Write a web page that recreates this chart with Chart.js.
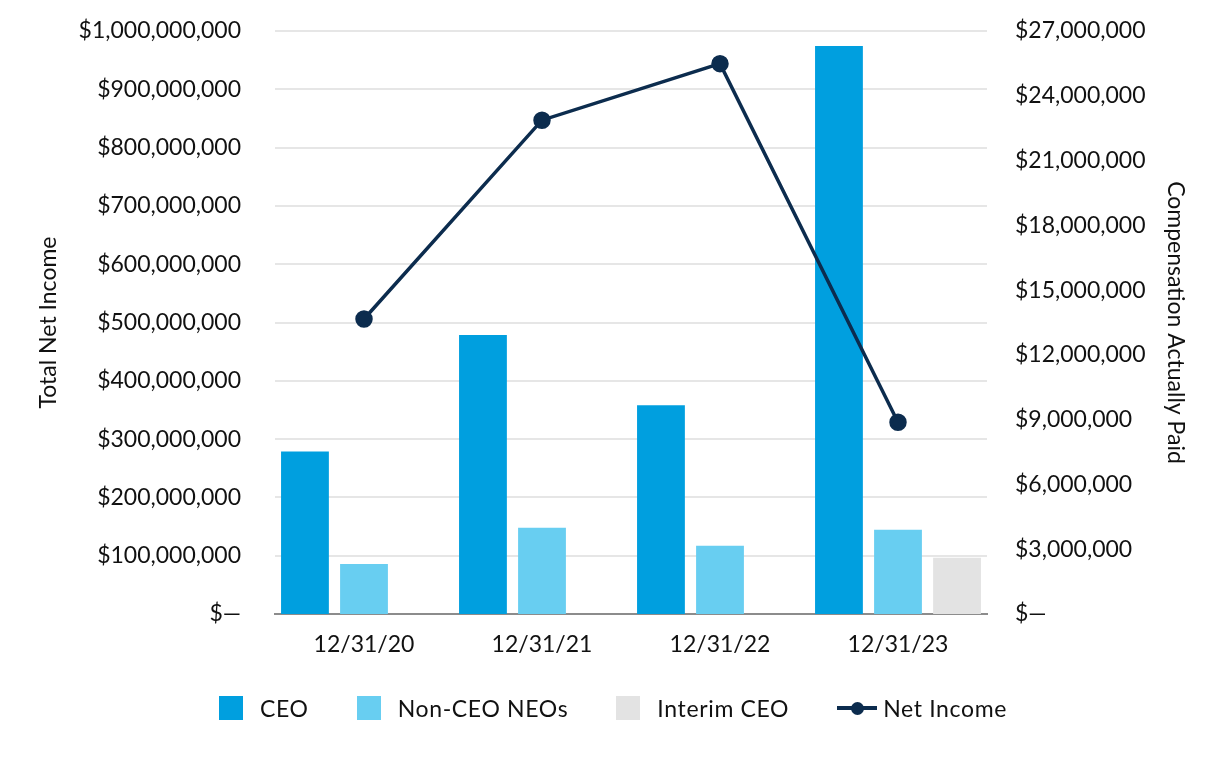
<!DOCTYPE html>
<html><head><meta charset="utf-8">
<script src="https://cdn.jsdelivr.net/npm/chart.js@4/dist/chart.umd.min.js"></script>
<style>
html,body{margin:0;padding:0;background:#fff;}
#wrap{position:relative;width:1226px;height:760px;}
#chart{position:absolute;left:0;top:0;width:1226px;height:760px;}
#legend{position:absolute;left:0;top:688px;width:1226px;height:40px;display:flex;justify-content:center;align-items:center;font-family:Lato, "Noto Sans", sans-serif;font-size:23px;letter-spacing:0.65px;color:#111;}
.item{display:flex;align-items:center;margin:0 24px;}
.box{width:24px;height:24px;margin-right:17px;}
.lineicon{position:relative;width:40px;height:4px;margin-right:6px;}
.lineicon span{position:absolute;left:13.5px;top:-4.5px;width:13px;height:13px;border-radius:50%;}
</style></head>
<body>
<div id="wrap"><canvas id="chart"></canvas><div id="legend"></div></div>
<script>
const categories = ['12/31/20', '12/31/21', '12/31/22', '12/31/23'];
const ceoPaid = [7530000, 12920000, 9670000, 26300000];
const nonCeoPaid = [2320000, 4000000, 3160000, 3900000];
const interimCeoPaid = [null, null, null, 2600000];
const netIncome = [506000000, 847000000, 944000000, 329000000];
const leftTickLabels = ['$\u2014', '$100,000,000', '$200,000,000', '$300,000,000', '$400,000,000', '$500,000,000', '$600,000,000', '$700,000,000', '$800,000,000', '$900,000,000', '$1,000,000,000'];
const rightTickLabels = ['$\u2014', '$3,000,000', '$6,000,000', '$9,000,000', '$12,000,000', '$15,000,000', '$18,000,000', '$21,000,000', '$24,000,000', '$27,000,000'];

const FONT = 'Lato, "Noto Sans", sans-serif';
const tickFont = {family: FONT, size: 23};
const NAVY = '#0c2c4e';

const chart = new Chart(document.getElementById('chart'), {
  data: {
    labels: categories,
    datasets: [
      {type: 'bar', label: 'CEO', data: ceoPaid, backgroundColor: '#009fdf', yAxisID: 'yR', order: 2},
      {type: 'bar', label: 'Non-CEO NEOs', data: nonCeoPaid, backgroundColor: '#68cef1', yAxisID: 'yR', order: 2},
      {type: 'bar', label: 'Interim CEO', data: interimCeoPaid, backgroundColor: '#e3e3e3', yAxisID: 'yR', order: 2},
      {type: 'line', label: 'Net Income', data: netIncome, borderColor: NAVY, backgroundColor: NAVY, borderWidth: 3.5, pointRadius: 7, pointBackgroundColor: NAVY, pointBorderColor: NAVY, yAxisID: 'y', order: 1, tension: 0}
    ]
  },
  options: {
    responsive: true,
    maintainAspectRatio: false,
    animation: false,
    layout: {padding: {top: 31, bottom: 101, left: 0, right: 0}},
    datasets: {bar: {categoryPercentage: 0.995, barPercentage: 0.81}},
    plugins: {legend: {display: false}, tooltip: {enabled: false}},
    scales: {
      x: {
        afterFit: s => { s.height = 45; s.paddingLeft = 0; s.paddingRight = 0; },
        grid: {display: false, drawTicks: false},
        border: {display: true, color: '#8c8c8c', width: 2},
        ticks: {font: tickFont, color: '#111', padding: 17}
      },
      y: {
        position: 'left', min: 0, max: 1000000000,
        afterFit: s => { s.width = 275; s.paddingTop = 0; s.paddingBottom = 0; },
        grid: {color: '#e6e6e6', lineWidth: 2, drawTicks: false},
        border: {display: false},
        ticks: {stepSize: 100000000, font: tickFont, color: '#111', padding: 34,
          callback: (v, i) => leftTickLabels[i]},
        title: {display: true, text: 'Total Net Income', font: tickFont, color: '#111', padding: {top: 35, bottom: 0}}
      },
      yR: {
        position: 'right', min: 0, max: 27000000,
        afterFit: s => { s.width = 239; s.paddingTop = 0; s.paddingBottom = 0; },
        grid: {display: false, drawTicks: false},
        border: {display: false},
        ticks: {stepSize: 3000000, font: tickFont, color: '#111', padding: 28,
          callback: (v, i) => rightTickLabels[i]},
        title: {display: true, text: 'Compensation Actually Paid', font: tickFont, color: '#111', padding: {top: 37, bottom: 0}}
      }
    }
  }
});

// HTML legend built from the chart's datasets
const legend = document.getElementById('legend');
chart.data.datasets.forEach(ds => {
  const item = document.createElement('div');
  item.className = 'item';
  if (ds.type === 'line') {
    const ic = document.createElement('div');
    ic.className = 'lineicon';
    ic.style.background = ds.borderColor;
    const dot = document.createElement('span');
    dot.style.background = ds.borderColor;
    ic.appendChild(dot);
    item.appendChild(ic);
  } else {
    const b = document.createElement('div');
    b.className = 'box';
    b.style.background = ds.backgroundColor;
    item.appendChild(b);
  }
  const t = document.createElement('span');
  t.textContent = ds.label;
  item.appendChild(t);
  legend.appendChild(item);
});
</script>
</body></html>
